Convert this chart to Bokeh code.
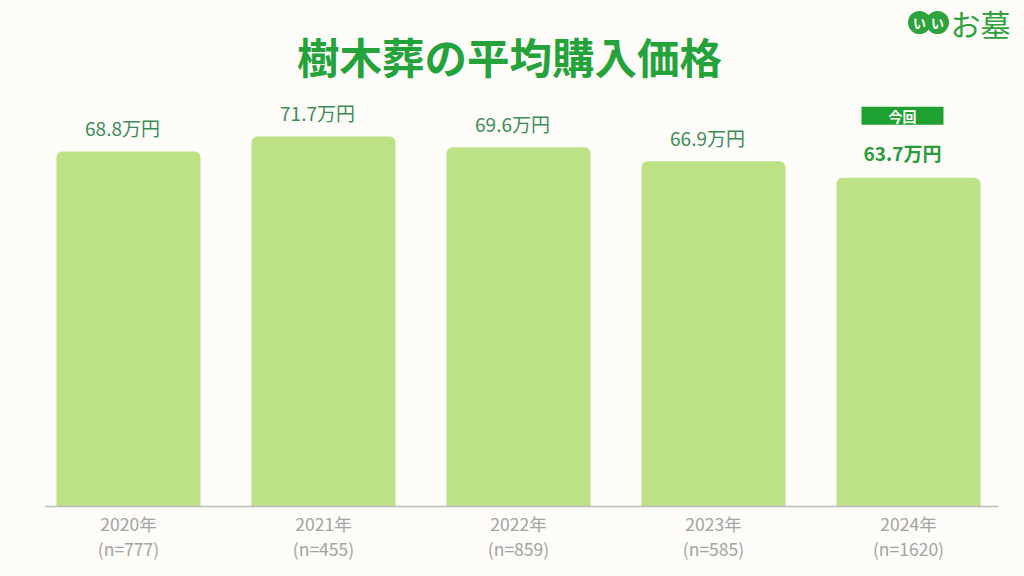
from bokeh.plotting import figure
from bokeh.models import ColumnDataSource, FixedTicker, Range1d, Rect
from bokeh.core.properties import value
from bokeh.embed import file_html
from bokeh.resources import INLINE

# ---- data ----
years = ["2020年", "2021年", "2022年", "2023年", "2024年"]
samples = ["(n=777)", "(n=455)", "(n=859)", "(n=585)", "(n=1620)"]
prices = [68.8, 71.7, 69.6, 66.9, 63.7]
unit = "万円"
title_text = "樹木葬の平均購入価格"
badge_text = "今回"

FONT = "Noto Sans CJK JP"
BG = "#fdfcf8"

# ---- layout (page has no margin: figure pixels == picture pixels) ----
W, H = 1024, 576
LEFT, RIGHT, TOP, BOTTOM = 44, 0, 0, 68
BASE_PX = 506          # picture row of the zero line
PX_PER_X = 195.0
PX_PER_Y = 5.16
frame_w = W - LEFT - RIGHT
frame_h = H - TOP - BOTTOM
x_start = (LEFT - 128) / PX_PER_X
x_end = x_start + frame_w / PX_PER_X
y_start = -((H - BOTTOM) - BASE_PX) / PX_PER_Y
y_end = y_start + frame_h / PX_PER_Y


def sx(px):
    return x_start + (px - LEFT) / PX_PER_X


def sy(py):
    return (BASE_PX - py) / PX_PER_Y


idx = list(range(len(years)))
labels = [f"{v}{unit}" for v in prices]

p = figure(width=W, height=H, output_backend="svg", toolbar_location=None,
           x_range=Range1d(x_start, x_end), y_range=Range1d(y_start, y_end),
           min_border_left=LEFT, min_border_right=RIGHT,
           min_border_top=TOP, min_border_bottom=BOTTOM)
p.background_fill_color = BG
p.border_fill_color = BG
p.outline_line_color = None
p.grid.visible = False
p.yaxis.visible = False

src = ColumnDataSource(dict(x=idx, top=prices, label=labels))
p.vbar(x="x", top="top", bottom=0, width=144 / PX_PER_X, source=src,
       fill_color="#bde285", line_color=None, border_radius=(6, 6, 0, 0))

# baseline
p.segment(x0=[x_start], y0=[0], x1=[sx(998)], y1=[0], line_color="#bdbdbd",
          line_width=1.5)

# value labels (past years)
past = ColumnDataSource(dict(x=idx[:-1], y=prices[:-1], label=labels[:-1]))
p.text(x="x", y="y", text="label", source=past, x_offset=-6, y_offset=-24,
       text_align="center", text_baseline="middle",
       text_font=value(FONT), text_font_size="19px", text_color="#3c8c58")

# current year label (bold) + badge
cur = ColumnDataSource(dict(x=idx[-1:], y=prices[-1:], label=labels[-1:]))
p.text(x="x", y="y", text="label", source=cur, x_offset=-6, y_offset=-25,
       text_align="center", text_baseline="middle",
       text_font=value(FONT), text_font_size="19px", text_font_style="bold",
       text_color="#2a9a3c")
bsrc = ColumnDataSource(dict(x=[idx[-1] - 6 / PX_PER_X],
                             y=[prices[-1] + 62 / PX_PER_Y],
                             badge=[badge_text]))
p.add_glyph(bsrc, Rect(x="x", y="y", width=82, height=18, width_units="screen",
                       height_units="screen", fill_color="#1fa131",
                       line_color=None))
p.text(x="x", y="y", text="badge", source=bsrc, text_align="center",
       text_baseline="middle", text_font=value(FONT), text_font_size="14px",
       text_font_style="bold", text_color="white")

# x axis
p.xaxis.ticker = FixedTicker(ticks=idx)
p.xaxis.major_label_overrides = {i: f"{y}\n{s}" for i, y, s in zip(idx, years, samples)}
p.xaxis.major_label_text_font = FONT
p.xaxis.major_label_text_font_size = "17.5px"
p.xaxis.major_label_text_color = "#a3a3a3"
p.xaxis.major_label_text_line_height = 1.0
p.xaxis.major_label_standoff = -4
p.xaxis.major_tick_line_color = None
p.xaxis.minor_tick_line_color = None
p.xaxis.axis_line_color = None

# title
p.text(x=[sx(509)], y=[sy(55)], text=[title_text], text_align="center",
       text_baseline="middle", text_font=value(FONT), text_font_size="42.5px",
       text_font_style="bold", text_color="#23a33a")

# logo
p.scatter(x=[sx(919), sx(937)], y=[sy(22), sy(22)], size=23, marker="circle",
          fill_color="#2ea23c", line_color=None)
p.text(x=[sx(919), sx(937)], y=[sy(22), sy(22)], text=["い", "い"],
       text_align="center", text_baseline="middle", text_font=value(FONT),
       text_font_size="13px", text_font_style="bold", text_color="white")
p.text(x=[sx(950)], y=[sy(22)], text=["お墓"], text_align="left",
       text_baseline="middle", text_font=value(FONT), text_font_size="30px",
       text_color="#2ea23c")

open("out.html", "w").write(file_html(p, INLINE))
